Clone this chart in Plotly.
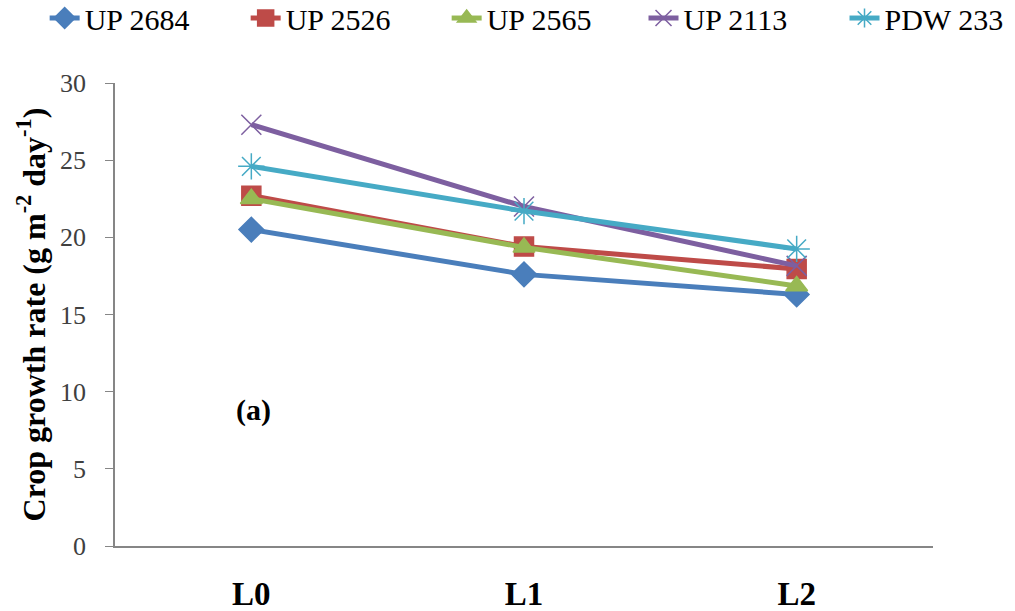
import plotly.graph_objects as go

categories = ["L0", "L1", "L2"]
up2684 = [20.5, 17.6, 16.3]
up2526 = [22.7, 19.4, 17.95]
up2565 = [22.5, 19.35, 16.85]
up2113 = [27.3, 22.0, 18.15]
pdw233 = [24.6, 21.7, 19.25]

names = ["UP 2684", "UP 2526", "UP 2565", "UP 2113", "PDW 233"]
series = [up2684, up2526, up2565, up2113, pdw233]
colors = ["#4A7EBB", "#BE4B48", "#98B954", "#7D5FA0", "#46AAC5"]
symbols = ["diamond", "square", "triangle-up", "x-thin", "asterisk-open"]
sizes = [19, 19, 19, 20, 22]
legend_ids = ["legend", "legend", "legend", "legend2", "legend2"]

fig = go.Figure()
for n, s, c, sym, sz, lg in zip(names, series, colors, symbols, sizes, legend_ids):
    fig.add_trace(go.Scatter(
        x=categories, y=s, name=n, mode="lines+markers", legend=lg,
        line=dict(color=c, width=5),
        marker=dict(symbol=sym, size=sz, color=c, line=dict(color=c, width=1.5)),
    ))

fig.add_annotation(x=0.145, y=8.8, xref="paper", yref="y", text="<b>(a)</b>",
                   showarrow=False, xanchor="left", yanchor="middle",
                   font=dict(family="Liberation Serif", size=30, color="black"))

legend_common = dict(orientation="h", xanchor="left", xref="container",
                     y=0.9705, yanchor="middle", yref="container",
                     font=dict(size=30, family="Liberation Serif", color="black"),
                     entrywidth=156, tracegroupgap=0, bgcolor="rgba(0,0,0,0)")

fig.update_layout(
    width=1015, height=611,
    margin=dict(l=115, r=82, t=83, b=65, autoexpand=False),
    paper_bgcolor="white", plot_bgcolor="white",
    font=dict(family="Liberation Serif", color="black"),
    showlegend=True,
    legend=dict(x=0.044, **legend_common),
    legend2=dict(x=0.634, **legend_common),
    xaxis=dict(type="category", range=[-0.5, 2.5], showline=True, linecolor="#868686",
               linewidth=1.5, ticks="", showgrid=False, ticklabelstandoff=18, automargin=False,
               tickfont=dict(size=33, family="Liberation Serif", color="black", weight="bold")),
    yaxis=dict(range=[0, 30], dtick=5, showline=True, linecolor="#868686", linewidth=1.5,
               ticks="outside", ticklen=8, tickcolor="#868686", showgrid=False, automargin=False,
               ticklabelstandoff=14,
               tickfont=dict(size=26, family="Liberation Serif", color="#404040"),
               title=dict(text="<b>Crop growth rate (g m<sup>-2</sup> day<sup>-1</sup>)</b>",
                          font=dict(size=32, family="Liberation Serif", color="black"),
                          standoff=5)),
)
fig.write_html("out.html")
